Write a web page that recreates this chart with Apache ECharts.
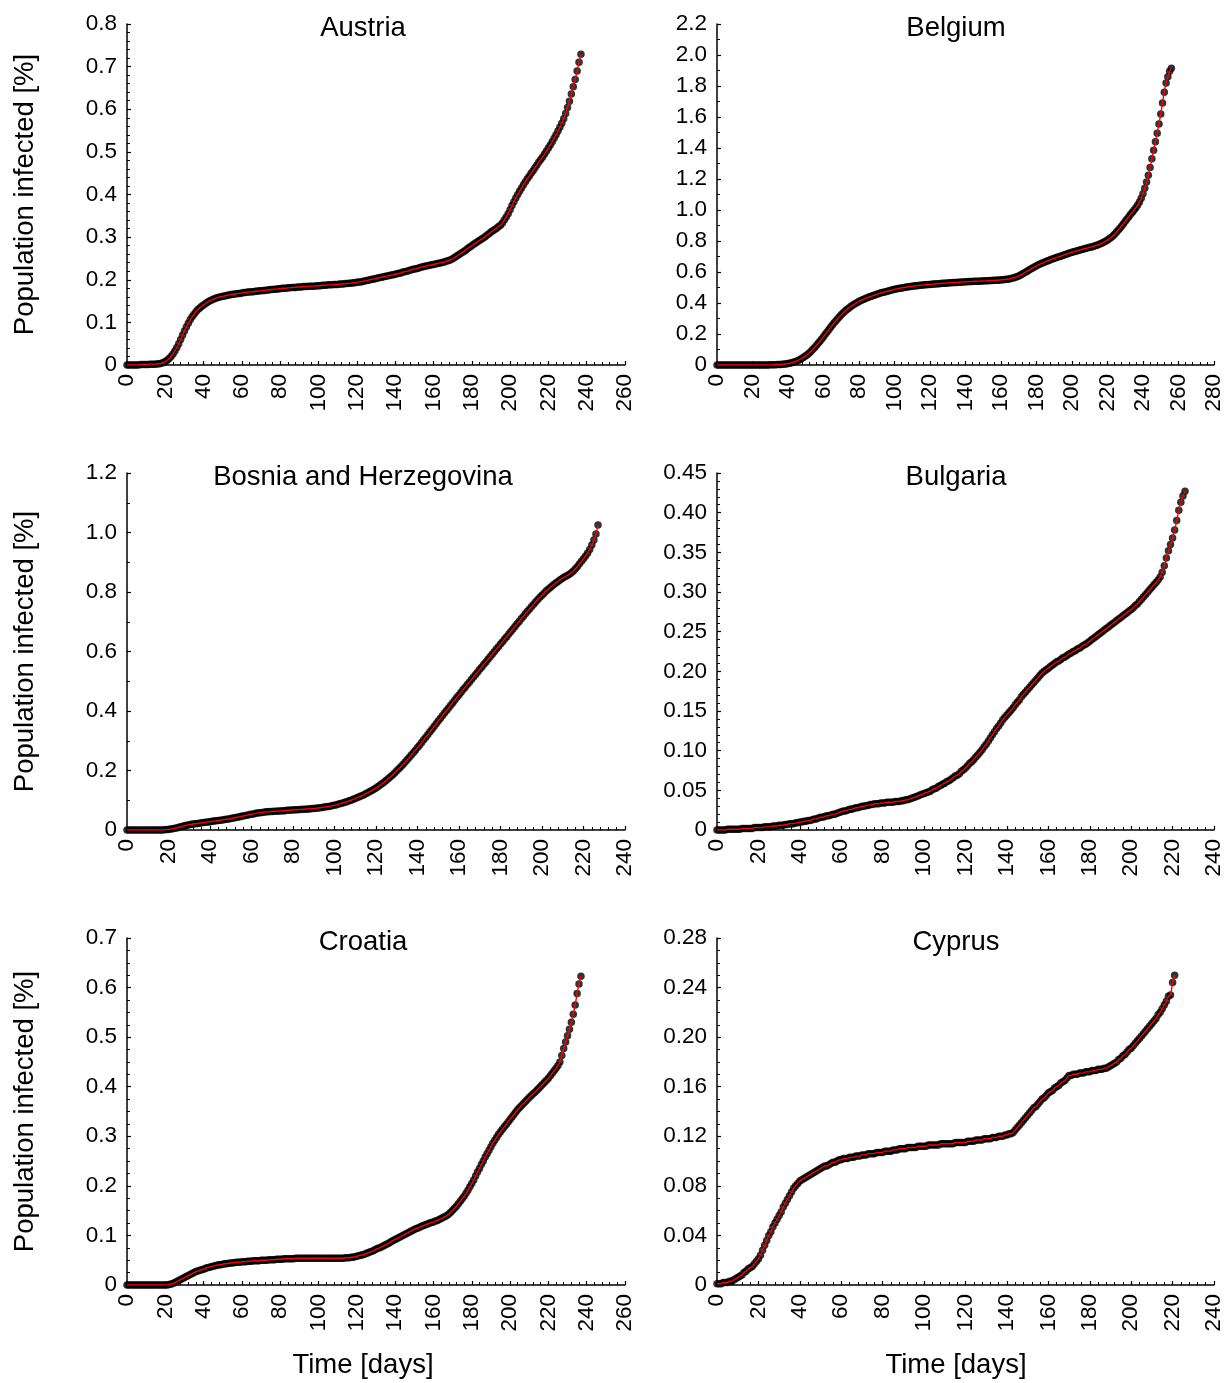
<!DOCTYPE html>
<html><head><meta charset="utf-8">
<script src="https://cdn.jsdelivr.net/npm/echarts@6/dist/echarts.min.js"></script>
<style>html,body{margin:0;padding:0;background:#fff}#c{width:1229px;height:1383px}</style>
</head><body><div id="c"></div>
<script>
const countries = ["Austria","Belgium","Bosnia and Herzegovina","Bulgaria","Croatia","Cyprus"];
const yLabelName = "Population infected [%]";
const xLabelName = "Time [days]";

const austria = [0,0,0,0,0,0,0,0.001,0.001,0.001,0.001,0.001,0.002,0.002,0.002,0.002,0.003,0.003,0.004,0.006,0.008,
0.011,0.015,0.020,0.026,0.033,0.041,0.050,0.060,0.070,0.080,
0.089,0.098,0.106,0.113,0.119,0.125,0.130,0.134,0.138,0.141,
0.144,0.147,0.150,0.152,0.154,0.156,0.158,0.159,0.160,0.161,
0.162,0.163,0.164,0.165,0.166,0.166,0.167,0.168,0.168,0.169,
0.170,0.170,0.171,0.171,0.172,0.172,0.173,0.173,0.174,0.174,
0.175,0.175,0.176,0.176,0.177,0.177,0.178,0.178,0.179,0.179,
0.180,0.180,0.180,0.181,0.181,0.182,0.182,0.182,0.183,0.183,
0.183,0.184,0.184,0.184,0.185,0.185,0.185,0.185,0.186,0.186,
0.186,0.187,0.187,0.187,0.188,0.188,0.188,0.189,0.189,0.189,
0.190,0.190,0.190,0.191,0.191,0.192,0.192,0.193,0.193,0.194,
0.195,0.195,0.196,0.197,0.198,0.199,0.200,0.201,0.202,0.203,
0.204,0.205,0.206,0.207,0.208,0.209,0.210,0.211,0.212,0.213,
0.214,0.215,0.216,0.218,0.219,0.220,0.221,0.223,0.224,0.225,
0.226,0.227,0.229,0.230,0.231,0.232,0.233,0.234,0.235,0.236,
0.237,0.238,0.239,0.240,0.241,0.242,0.244,0.245,0.247,0.249,
0.252,0.255,0.258,0.261,0.264,0.267,0.270,0.274,0.277,0.280,
0.283,0.286,0.289,0.292,0.295,0.298,0.301,0.305,0.308,0.312,
0.315,0.318,0.321,0.325,0.328,0.333,0.340,0.347,0.355,0.364,
0.374,0.383,0.392,0.400,0.408,0.415,0.423,0.430,0.437,0.443,
0.450,0.456,0.463,0.469,0.476,0.482,0.488,0.495,0.502,0.509,
0.516,0.524,0.532,0.540,0.549,0.558,0.567,0.578,0.590,0.604,
0.619,0.636,0.653,0.670,0.690,0.710,0.729];

const belgium = [0,0,0,0,0,0,0,0,0,0,0,0,0,0,0,0,0,0,0,0,0,0,0,0,0,0,0,0,0,0,
0.001,0.001,0.002,0.002,0.003,0.003,
0.004,0.005,0.006,0.007,0.009,0.011,0.014,0.017,0.021,0.026,
0.031,0.037,0.044,0.051,0.059,0.068,0.078,0.089,0.101,0.113,
0.126,0.140,0.154,0.168,0.183,0.198,0.213,0.228,0.243,0.258,
0.272,0.286,0.299,0.312,0.324,0.335,0.346,0.356,0.365,0.374,
0.382,0.390,0.397,0.404,0.410,0.416,0.421,0.426,0.431,0.436,
0.440,0.444,0.448,0.452,0.456,0.460,0.464,0.467,0.470,0.473,
0.476,0.479,0.482,0.485,0.488,0.491,0.493,0.495,0.497,0.499,
0.501,0.503,0.505,0.506,0.508,0.510,0.511,0.512,0.514,0.515,
0.516,0.517,0.518,0.519,0.520,0.521,0.522,0.523,0.524,0.525,
0.526,0.527,0.528,0.528,0.529,0.530,0.531,0.532,0.532,0.533,
0.534,0.534,0.535,0.536,0.537,0.537,0.538,0.538,0.539,0.540,
0.540,0.541,0.541,0.542,0.542,0.543,0.543,0.544,0.545,0.545,
0.546,0.547,0.547,0.548,0.549,0.550,0.551,0.553,0.554,0.556,
0.559,0.562,0.566,0.570,0.575,0.581,0.587,0.593,0.600,0.607,
0.614,0.621,0.628,0.634,0.640,0.646,0.651,0.656,0.661,0.666,
0.671,0.675,0.680,0.684,0.688,0.692,0.696,0.700,0.704,0.708,
0.712,0.716,0.720,0.724,0.727,0.731,0.734,0.737,0.741,0.744,
0.747,0.750,0.753,0.756,0.759,0.762,0.765,0.769,0.773,0.777,
0.782,0.787,0.793,0.799,0.806,0.814,0.823,0.833,0.844,0.856,
0.869,0.883,0.897,0.912,0.927,0.942,0.957,0.972,0.986,1.000,
1.015,1.032,1.052,1.076,1.105,1.140,1.180,1.225,1.275,1.330,
1.385,1.440,1.495,1.555,1.620,1.690,1.760,1.820,1.860,1.895,1.915];

const bosnia = [0,0,0,0,0,0,0,0,0,0,0,0,0,0,0,0,0,0,
0.001,0.002,0.002,0.003,0.004,0.006,0.007,0.009,0.011,0.013,
0.015,0.016,0.018,0.019,0.020,0.021,0.022,0.023,0.024,0.025,
0.026,0.027,0.028,0.029,0.030,0.031,0.032,0.033,0.034,0.035,
0.036,0.037,0.039,0.040,0.041,0.043,0.044,0.046,0.047,0.049,
0.050,0.052,0.053,0.054,0.056,0.057,0.058,0.059,0.060,0.061,
0.061,0.062,0.062,0.063,0.063,0.064,0.064,0.065,0.065,0.066,
0.066,0.067,0.067,0.068,0.068,0.069,0.069,0.070,0.070,0.071,
0.071,0.072,0.072,0.073,0.074,0.075,0.076,0.077,0.078,0.079,
0.080,0.082,0.083,0.085,0.087,0.089,0.091,0.093,0.095,0.098,
0.100,0.103,0.106,0.109,0.112,0.115,0.118,0.122,0.125,0.129,
0.133,0.137,0.141,0.146,0.151,0.156,0.161,0.167,0.173,0.179,
0.185,0.192,0.199,0.206,0.213,0.220,0.228,0.236,0.244,0.252,
0.260,0.268,0.277,0.285,0.294,0.303,0.312,0.321,0.330,0.339,
0.348,0.357,0.366,0.375,0.384,0.393,0.402,0.410,0.419,0.428,
0.437,0.446,0.454,0.463,0.472,0.480,0.489,0.497,0.506,0.514,
0.523,0.531,0.540,0.548,0.557,0.565,0.574,0.582,0.591,0.599,
0.608,0.616,0.625,0.633,0.642,0.650,0.659,0.667,0.676,0.684,
0.693,0.701,0.710,0.718,0.727,0.735,0.743,0.751,0.759,0.767,
0.775,0.782,0.789,0.796,0.803,0.809,0.815,0.821,0.827,0.832,
0.837,0.842,0.847,0.851,0.855,0.859,0.864,0.870,0.877,0.885,
0.894,0.903,0.912,0.921,0.931,0.943,0.958,0.975,0.995,1.025];

const bulgaria = [0,0,0,0,0,0.001,0.001,0.001,0.001,0.001,
0.001,0.001,0.002,0.002,0.002,0.002,0.002,0.002,0.003,0.003,
0.003,0.003,0.003,0.004,0.004,0.004,0.004,0.005,0.005,0.005,
0.006,0.006,0.006,0.007,0.007,0.008,0.008,0.008,0.009,0.009,
0.010,0.010,0.011,0.011,0.012,0.012,0.013,0.014,0.014,0.015,
0.016,0.016,0.017,0.018,0.018,0.019,0.020,0.020,0.021,0.022,
0.023,0.024,0.024,0.025,0.026,0.026,0.027,0.028,0.028,0.029,
0.030,0.030,0.031,0.031,0.032,0.032,0.033,0.033,0.033,0.034,
0.034,0.034,0.035,0.035,0.035,0.035,0.036,0.036,0.036,0.037,
0.037,0.038,0.038,0.039,0.040,0.041,0.042,0.043,0.044,0.045,
0.046,0.047,0.048,0.049,0.051,0.052,0.053,0.055,0.056,0.058,
0.059,0.061,0.062,0.064,0.066,0.068,0.069,0.071,0.074,0.076,
0.078,0.081,0.084,0.086,0.089,0.092,0.095,0.098,0.101,0.105,
0.108,0.112,0.116,0.120,0.124,0.128,0.131,0.135,0.139,0.142,
0.145,0.148,0.151,0.154,0.158,0.161,0.164,0.168,0.171,0.174,
0.177,0.180,0.183,0.186,0.189,0.192,0.195,0.198,0.200,0.202,
0.204,0.206,0.208,0.210,0.212,0.213,0.215,0.217,0.218,0.220,
0.222,0.223,0.225,0.226,0.228,0.229,0.231,0.233,0.234,0.236,
0.238,0.240,0.242,0.244,0.246,0.248,0.250,0.252,0.254,0.256,
0.258,0.260,0.262,0.264,0.266,0.268,0.270,0.272,0.274,0.276,
0.278,0.280,0.283,0.285,0.288,0.291,0.294,0.297,0.300,0.303,
0.306,0.309,0.312,0.315,0.319,0.325,0.333,0.343,0.352,0.360,
0.368,0.378,0.390,0.403,0.413,0.421,0.427];

const croatia = [0,0,0,0,0,0,0,0,0,0,0,0,0,0,0,0,0,0,0,0,0,0,
0.001,0.002,0.003,0.005,0.007,0.009,0.011,0.013,0.015,0.017,
0.019,0.021,0.023,0.025,0.027,0.028,0.030,0.031,0.032,0.034,
0.035,0.036,0.037,0.038,0.039,0.040,0.041,0.041,0.042,0.043,
0.043,0.044,0.044,0.045,0.045,0.046,0.046,0.046,0.047,0.047,
0.047,0.048,0.048,0.048,0.049,0.049,0.049,0.049,0.050,0.050,
0.050,0.050,0.051,0.051,0.051,0.051,0.052,0.052,0.052,0.052,
0.053,0.053,0.053,0.053,0.053,0.053,0.054,0.054,0.054,0.054,
0.054,0.054,0.054,0.054,0.054,0.054,0.054,0.054,0.054,0.054,
0.054,0.054,0.054,0.054,0.054,0.054,0.054,0.054,0.054,0.054,
0.054,0.054,0.055,0.055,0.055,0.056,0.056,0.057,0.058,0.059,
0.060,0.061,0.062,0.064,0.065,0.067,0.068,0.070,0.072,0.074,
0.075,0.077,0.079,0.081,0.083,0.085,0.088,0.090,0.092,0.094,
0.096,0.098,0.100,0.102,0.104,0.106,0.108,0.110,0.112,0.114,
0.115,0.117,0.119,0.120,0.122,0.123,0.125,0.126,0.127,0.129,
0.130,0.132,0.134,0.136,0.138,0.140,0.143,0.147,0.151,0.155,
0.159,0.164,0.169,0.174,0.179,0.185,0.191,0.198,0.205,0.212,
0.220,0.228,0.235,0.243,0.250,0.258,0.265,0.272,0.279,0.286,
0.292,0.298,0.304,0.309,0.314,0.319,0.324,0.329,0.334,0.339,
0.344,0.349,0.354,0.358,0.362,0.366,0.370,0.374,0.378,0.382,
0.386,0.389,0.393,0.397,0.401,0.405,0.409,0.413,0.417,0.422,
0.427,0.432,0.437,0.443,0.450,0.463,0.477,0.490,0.503,0.516,
0.530,0.546,0.565,0.588,0.607,0.623];

const cyprus = [0.001,0.001,0.001,0.002,0.002,0.002,0.003,0.003,0.004,0.005,
0.006,0.007,0.008,0.010,0.011,0.013,0.014,0.015,0.017,0.019,
0.021,0.024,0.028,0.032,0.036,0.040,0.043,0.047,0.050,0.053,
0.056,0.059,0.063,0.066,0.069,0.072,0.075,0.078,0.080,0.082,
0.084,0.085,0.086,0.087,0.088,0.089,0.090,0.091,0.092,0.093,
0.094,0.095,0.096,0.096,0.097,0.098,0.099,0.099,0.100,0.101,
0.101,0.102,0.102,0.102,0.103,0.103,0.103,0.104,0.104,0.104,
0.105,0.105,0.105,0.106,0.106,0.106,0.106,0.107,0.107,0.107,
0.107,0.108,0.108,0.108,0.108,0.109,0.109,0.109,0.110,0.110,
0.110,0.110,0.111,0.111,0.111,0.111,0.111,0.112,0.112,0.112,
0.112,0.112,0.113,0.113,0.113,0.113,0.113,0.113,0.114,0.114,
0.114,0.114,0.114,0.114,0.114,0.115,0.115,0.115,0.115,0.115,
0.115,0.116,0.116,0.116,0.116,0.117,0.117,0.117,0.117,0.118,
0.118,0.118,0.118,0.119,0.119,0.119,0.120,0.120,0.120,0.121,
0.121,0.122,0.122,0.123,0.125,0.127,0.129,0.131,0.133,0.135,
0.137,0.139,0.141,0.143,0.144,0.146,0.148,0.150,0.151,0.153,
0.155,0.156,0.157,0.159,0.160,0.161,0.163,0.164,0.165,0.167,
0.169,0.169,0.170,0.170,0.170,0.171,0.171,0.171,0.172,0.172,
0.172,0.173,0.173,0.173,0.174,0.174,0.174,0.175,0.175,0.176,
0.177,0.178,0.179,0.180,0.182,0.183,0.185,0.186,0.188,0.190,
0.191,0.193,0.195,0.197,0.199,0.201,0.203,0.205,0.207,0.209,
0.211,0.213,0.215,0.218,0.220,0.223,0.226,0.229,0.233,0.234,
0.244,0.250];

const seriesValues = [austria, belgium, bosnia, bulgaria, croatia, cyprus];
const xMax = [260, 280, 240, 240, 260, 240];
const yMax = [0.8, 2.2, 1.2, 0.45, 0.7, 0.28];
const yStep = [0.1, 0.2, 0.2, 0.05, 0.1, 0.04];
const yDecimals = [1, 1, 1, 2, 1, 2];
const yMinorSplit = [5, 2, 2, 5, 4, 4];

const FONT = "Liberation Sans, Arial, sans-serif";
const lefts = [127, 717];
const widths = [498, 497];
const tops = [24, 473, 938];
const heights = [341, 357, 347];
const textCenters = [363, 956];

const grids = [], xAxes = [], yAxes = [], series = [], graphics = [];
for (let i = 0; i < 6; i++) {
  const col = i % 2, row = Math.floor(i / 2);
  grids.push({left: lefts[col], top: tops[row], width: widths[col], height: heights[row], containLabel: false});
  const axisLine = {show: true, onZero: false, lineStyle: {color: '#000', width: 1.5}};
  xAxes.push({
    type: 'value', gridIndex: i, min: 0, max: xMax[i], interval: 20,
    axisLine: axisLine,
    axisTick: {show: true, inside: true, length: 4, lineStyle: {color: '#000', width: 1.2}},
    minorTick: {show: true, splitNumber: 5, length: 3, lineStyle: {color: '#000', width: 1}},
    splitLine: {show: false},
    axisLabel: {rotate: 90, margin: 9, color: '#000', fontSize: 22.5, fontFamily: FONT}
  });
  const dec = yDecimals[i];
  yAxes.push({
    type: 'value', gridIndex: i, min: 0, max: yMax[i], interval: yStep[i],
    axisLine: axisLine,
    axisTick: {show: true, inside: true, length: 4, lineStyle: {color: '#000', width: 1.2}},
    minorTick: {show: true, splitNumber: yMinorSplit[i], length: 3, lineStyle: {color: '#000', width: 1}},
    splitLine: {show: false},
    axisLabel: {margin: 10, color: '#000', fontSize: 22.5, fontFamily: FONT,
      formatter: v => Math.abs(v) < 1e-9 ? '0' : v.toFixed(dec)},
    name: col === 0 ? yLabelName : '', nameLocation: 'middle', nameGap: 88,
    nameTextStyle: {color: '#000', fontSize: 27.5, fontFamily: FONT}
  });
  const pts = seriesValues[i].map((v, d) => [d, v]);
  series.push({
    type: 'scatter', xAxisIndex: i, yAxisIndex: i, data: pts,
    symbol: 'circle', symbolSize: 7.5, itemStyle: {color: '#000'}, silent: true, z: 2
  });
  series.push({
    type: 'line', xAxisIndex: i, yAxisIndex: i, data: pts, smooth: 0.3,
    showSymbol: false, lineStyle: {color: '#ff0000', width: 1.4}, silent: true, z: 3
  });
  graphics.push({
    type: 'text', x: textCenters[col], y: tops[row] + 4,
    style: {text: countries[i], fill: '#000', font: '27.5px ' + FONT, textAlign: 'center', textVerticalAlign: 'middle'}
  });
  if (row === 2) {
    graphics.push({
      type: 'text', x: textCenters[col], y: 1365,
      style: {text: xLabelName, fill: '#000', font: '27.5px ' + FONT, textAlign: 'center', textVerticalAlign: 'middle'}
    });
  }
}

const chart = echarts.init(document.getElementById('c'), null, {renderer: 'canvas'});
chart.setOption({
  animation: false,
  backgroundColor: '#fff',
  grid: grids, xAxis: xAxes, yAxis: yAxes, series: series,
  graphic: graphics
});
</script></body></html>
